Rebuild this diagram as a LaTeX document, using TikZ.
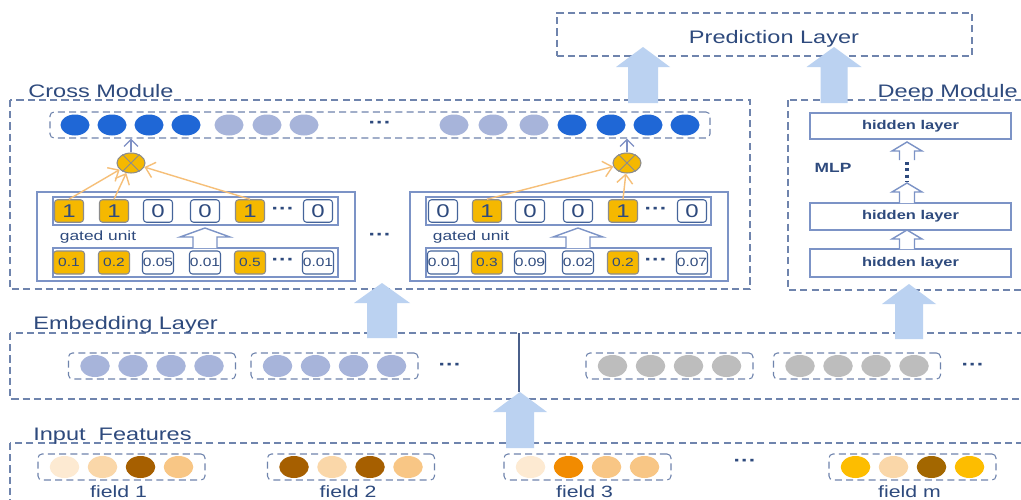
\documentclass[tikz,border=0pt]{standalone}
\usepackage{fontspec}
\setmainfont{Liberation Sans}[FakeStretch=1.3]
\usetikzlibrary{shapes.geometric,arrows.meta}

\definecolor{ink}{HTML}{2E4A7D}
\definecolor{dashc}{HTML}{6F84AD}
\definecolor{cellc}{HTML}{45649A}
\definecolor{framec}{HTML}{7C93C6}
\definecolor{gold}{HTML}{F5B800}
\definecolor{goldedge}{HTML}{8C8C8C}
\definecolor{thinblue}{HTML}{7D8FC4}
\definecolor{orangec}{HTML}{F6BF78}
\definecolor{bigblue}{HTML}{BBD2F1}
\definecolor{dk}{HTML}{1F67D6}
\definecolor{lt}{HTML}{A7B4DA}
\definecolor{emgray}{HTML}{BDBDBD}
\definecolor{inA}{HTML}{FDEAD2}
\definecolor{inB}{HTML}{FAD7A9}
\definecolor{inC}{HTML}{A65F00}
\definecolor{inD}{HTML}{F8C685}
\definecolor{inE}{HTML}{F28B00}
\definecolor{inF}{HTML}{FDBD00}
\definecolor{inG}{HTML}{A36700}
\definecolor{linec}{HTML}{4A5F8A}

\tikzset{
  dashbox/.style={draw=dashc, line width=0.6pt, dash pattern=on 4pt off 2.4pt},
  grp/.style={dashbox, rounded corners=0.8mm, minimum width=33.4mm, minimum height=5.2mm, inner sep=0},
  blob/.style={ellipse, minimum width=5.9mm, minimum height=4.4mm, inner sep=0},
  heading/.style={text=ink, font=\fontsize{10.3}{12}\selectfont, inner sep=0},
  cellbase/.style={draw=cellc, line width=0.6pt, rounded corners=0.6mm, inner sep=0, text=ink},
  topcell/.style={cellbase, minimum width=5.8mm, minimum height=4.5mm, font=\fontsize{10.5}{10}\selectfont},
  botcell/.style={cellbase, minimum width=6.2mm, minimum height=4.6mm, font=\fontsize{6.8}{7}\selectfont},
  gateon/.style={fill=gold, draw=goldedge},
  gateoff/.style={fill=white},
  frame/.style={draw=framec, line width=0.8pt},
  etc/.style={text=ink, font=\bfseries\fontsize{10}{10}\selectfont, inner sep=0},
  small/.style={text=ink, font=\fontsize{7.6}{9}\selectfont, inner sep=0},
  smallbold/.style={text=ink, font=\bfseries\fontsize{7.6}{9}\selectfont, inner sep=0},
  fieldlabel/.style={text=ink, font=\fontsize{9.3}{10}\selectfont, inner sep=0, anchor=base},
  hidden/.style={frame, minimum width=40.2mm, inner sep=0, text=ink, font=\bfseries\fontsize{7.2}{9}\selectfont},
  bigarrow/.style={fill=bigblue},
  openarrow/.style={draw=framec, line width=0.8pt, fill=white},
  gatearrow/.style={-{Straight Barb[length=5pt,width=9pt]}, draw=orangec, line width=0.8pt},
  uparrow/.style={-{Straight Barb[length=4pt,width=8pt]}, draw=thinblue, line width=0.7pt},
  mlpdots/.style={draw=ink, line width=1.8pt, dash pattern=on 1.8pt off 1.8pt},
}

% solid block arrow pointing up: x, tail y, tip y, head base y, half shaft, half head
\newcommand\blockarrow[6]{%
  \fill[bigarrow] (#1-#5,#2) -- (#1-#5,#4) -- (#1-#6,#4) -- (#1,#3)
    -- (#1+#6,#4) -- (#1+#5,#4) -- (#1+#5,#2) -- cycle;}
% outlined arrow pointing up, open at its tail
\newcommand\hollowarrow[6]{%
  \draw[openarrow] (#1-#5,#2) -- (#1-#5,#4) -- (#1-#6,#4) -- (#1,#3)
    -- (#1+#6,#4) -- (#1+#5,#4) -- (#1+#5,#2);}

% gated unit: name prefix, left edge, list of index/offset/top value/bottom value/state
\newcommand\gatedunit[3]{%
  \draw[frame] (#2,192) rectangle (#2+318,281);
  \draw[frame] (#2+16,197) rectangle (#2+301,225);
  \draw[frame] (#2+16,248) rectangle (#2+301,277);
  \foreach \k/\dx/\tv/\bv/\st in {#3} {
    \node[topcell,\st] (#1t\k) at (#2+\dx,211) {\tv};
    \node[botcell,\st] (#1b\k) at (#2+\dx,262.5) {\bv};
  }
  \node[etc] (#1td) at (#2+246,211) {···};
  \node[etc] (#1bd) at (#2+246,262) {···};
  \node[small] (#1lab) at (#2+61,237) {gated unit};
  \hollowarrow{#2+168}{248}{228}{237}{12}{25}
}

% one input field: name, centre x, four colours, label
\newcommand\fieldgroup[7]{%
  \node[grp] (f#1) at (#2,467) {};
  \node[blob, fill=#3] (f#1a) at (#2-57,467) {};
  \node[blob, fill=#4] (f#1b) at (#2-19,467) {};
  \node[blob, fill=#5] (f#1c) at (#2+19,467) {};
  \node[blob, fill=#6] (f#1d) at (#2+57,467) {};
  \node[fieldlabel] (f#1lab) at (#2-3,497) {#7};
}

\begin{document}
\begin{tikzpicture}[x=0.2mm, y=-0.2mm]
\useasboundingbox (0,0) rectangle (1021,500);
\fill[white] (0,0) rectangle (1021,500);

% prediction layer
\node[dashbox, minimum width=83mm, minimum height=8.6mm, inner sep=0] (pred) at (764.5,34.5) {};
\node[heading, anchor=base] (predlab) at (774,43) {Prediction Layer};

% cross module
\draw[dashbox] (10,100) rectangle (750,289);
\node[heading, anchor=base west] (crosslab) at (28,97) {Cross Module};
\node[dashbox, rounded corners=0.8mm, minimum width=132mm, minimum height=5.2mm, inner sep=0] (toprow) at (380,125) {};
\foreach \x/\c [count=\i] in {75/dk,112/dk,149/dk,186/dk,229/lt,267/lt,304/lt,
    454/lt,493/lt,534/lt,572/dk,611/dk,648/dk,685/dk}
  \node[blob, minimum width=5.8mm, minimum height=4.2mm, fill=\c] (tr\i) at (\x,125) {};
\node[etc] (trdots) at (380,125) {···};

\gatedunit{L}{37}{1/32/1/0.1/gateon, 2/77/1/0.2/gateon, 3/121/0/0.05/gateoff,
  4/168/0/0.01/gateoff, 5/213/1/0.5/gateon, 6/281/0/0.01/gateoff}
\gatedunit{R}{410}{1/33/0/0.01/gateoff, 2/77/1/0.3/gateon, 3/120/0/0.09/gateoff,
  4/168/0/0.02/gateoff, 5/213/1/0.2/gateon, 6/282/0/0.07/gateoff}
\node[etc] (gdots) at (380,237) {···};

% product gates
\foreach \n/\x in {xl/131, xr/627} {
  \node[blob, minimum width=5.6mm, minimum height=4mm, fill=gold, draw=goldedge, line width=0.6pt] (\n) at (\x,163) {};
  \draw[goldedge, line width=0.6pt] (\n.45) -- (\n.225) (\n.135) -- (\n.315);
  \draw[uparrow] (\n.north) -- (\n.north |- toprow.south);
}
\draw[gatearrow] (Lt1.north) -- (xl);
\draw[gatearrow] (Lt2.north) -- (xl);
\draw[gatearrow] (Lt5.north) -- (xl);
\draw[gatearrow] (Rt2.north) -- (xr);
\draw[gatearrow] (Rt5.north) -- (xr);

% deep module
\draw[dashbox] (788,100) rectangle (1030,290);
\node[heading, anchor=base east] (deeplab) at (1018,97) {Deep Module};
\node[hidden, minimum height=5.2mm] (h3) at (910.5,126) {hidden layer};
\node[hidden, minimum height=5.4mm] (h2) at (910.5,216.5) {hidden layer};
\node[hidden, minimum height=5.6mm] (h1) at (910.5,263) {hidden layer};
\node[smallbold] (mlp) at (833,168) {MLP};
\hollowarrow{907}{249}{230}{239}{7.5}{15}
\hollowarrow{907}{203}{183}{192}{7.5}{15}
\hollowarrow{907}{160}{142}{151}{7.5}{15}
\coordinate (mlpa) at (907,162);
\coordinate (mlpb) at (907,181);
\draw[mlpdots] (mlpa) -- (mlpb);

% embedding layer
\draw[dashbox] (10,333) rectangle (1030,399);
\node[heading, anchor=base west] (emblab) at (33,329) {Embedding Layer};
\foreach \g/\cx/\c in {1/152/lt, 2/334.5/lt, 3/669.5/emgray, 4/857/emgray} {
  \node[grp] (eg\g) at (\cx,366) {};
  \foreach \d [count=\j] in {-57,-19,19,57}
    \node[blob, fill=\c] (e\g\j) at (\cx+\d,366) {};
}
\node[etc] (edots1) at (450,367) {···};
\node[etc] (edots2) at (973,367) {···};

% input features
\draw[dashbox] (10,443) rectangle (1030,520);
\node[heading, anchor=base west] (inlab) at (33,440) {Input~~Features};
\fieldgroup{1}{121.5}{inA}{inB}{inC}{inD}{field 1}
\fieldgroup{2}{351}{inC}{inB}{inC}{inD}{field 2}
\fieldgroup{3}{587.5}{inA}{inE}{inD}{inD}{field 3}
\fieldgroup{4}{912.5}{inF}{inB}{inG}{inF}{field m}
\node[etc] (fdots) at (745,463) {···};

% link from the input arrow to the embedding layer
\coordinate (intip) at (519,392);
\coordinate (embtop) at (519,333);
\draw[linec, line width=0.8pt] (intip) -- (embtop);

% block arrows between layers
\blockarrow{643}{103}{47}{67}{15}{27}
\blockarrow{834}{103}{47}{67}{13.5}{27.5}
\blockarrow{382}{338}{283}{303}{15}{28}
\blockarrow{909}{339}{284}{304}{14}{27}
\blockarrow{520}{448}{392}{412}{14}{27}
\end{tikzpicture}
\end{document}
